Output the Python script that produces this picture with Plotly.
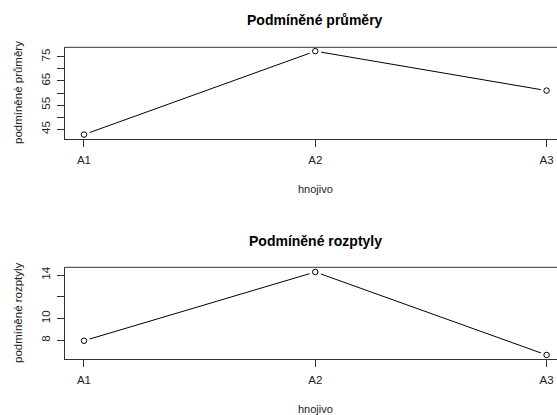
import plotly.graph_objects as go

categories = ["A1", "A2", "A3"]
x_pos = [1, 2, 3]
prumery = [42.8, 77.3, 61.0]
rozptyly = [7.96, 14.28, 6.65]

top_ticks = [45, 50, 55, 60, 65, 70, 75]
top_ticktext = ["45", "", "55", "", "65", "", "75"]
bot_ticks = [8, 10, 12, 14]
bot_ticktext = ["8", "10", "", "14"]

W, H = 557, 415
L = 65
PW = W - L

def py(p):
    return 1 - p / H

def px(p):
    return (p - L) / PW

FONT = "Liberation Sans, Arial, sans-serif"
LC = "#333333"

fig = go.Figure()

for vals, xa, ya in [(prumery, "x", "y"), (rozptyly, "x2", "y2")]:
    fig.add_trace(go.Scatter(x=x_pos, y=vals, mode="lines", xaxis=xa, yaxis=ya,
                             line=dict(color="black", width=1), hoverinfo="skip"))
    fig.add_trace(go.Scatter(x=x_pos, y=vals, mode="markers", xaxis=xa, yaxis=ya,
                             marker=dict(symbol="circle", size=12, color="white",
                                         line=dict(width=0)), hoverinfo="skip"))
    fig.add_trace(go.Scatter(x=x_pos, y=vals, mode="markers", xaxis=xa, yaxis=ya,
                             marker=dict(symbol="circle-open", size=5.5, color="black",
                                         line=dict(width=1, color="black"))))

xcommon = dict(range=[0.918, 3.045], tickvals=x_pos, ticktext=categories,
               showgrid=False, zeroline=False, showline=True, linecolor=LC, linewidth=1,
               mirror=False, ticks="outside", ticklen=7, tickcolor=LC, tickwidth=1,
               ticklabelstandoff=3,
               tickfont=dict(family=FONT, size=11.5, color="#222"), automargin=False)
ycommon = dict(showgrid=False, zeroline=False, showline=True, linecolor=LC, linewidth=1,
               ticks="outside", ticklen=7, tickcolor=LC, tickwidth=1, tickangle=-90,
               ticklabelstandoff=2,
               tickfont=dict(family=FONT, size=11.5, color="#222"), automargin=False)

fig.update_layout(
    width=W, height=H,
    margin=dict(l=L, r=0, t=0, b=0),
    paper_bgcolor="white", plot_bgcolor="white",
    showlegend=False,
    xaxis=dict(**xcommon, anchor="y", domain=[0, 1]),
    xaxis2=dict(**xcommon, anchor="y2", domain=[0, 1]),
    yaxis=dict(**ycommon, anchor="x", domain=[py(138.7), py(47.3)], range=[41.1, 78.9],
               tickvals=top_ticks, ticktext=top_ticktext),
    yaxis2=dict(**ycommon, anchor="x2", domain=[py(359), py(267.3)], range=[6.28, 14.71],
                tickvals=bot_ticks, ticktext=bot_ticktext),
)

# top border lines
for yref_p in [47.3, 267.3]:
    fig.add_shape(type="line", xref="paper", yref="paper", x0=0, x1=1.01,
                  y0=py(yref_p), y1=py(yref_p), line=dict(color=LC, width=1))

ann = []
for title, ty in [("Podmíněné průměry", 20), ("Podmíněné rozptyly", 241)]:
    ann.append(dict(text="<b>%s</b>" % title, x=px(315), y=py(ty), xref="paper", yref="paper",
                    showarrow=False, xanchor="center", yanchor="middle",
                    font=dict(family=FONT, size=14, color="black")))
for ty in [189, 409]:
    ann.append(dict(text="hnojivo", x=px(315), y=py(ty), xref="paper", yref="paper",
                    showarrow=False, xanchor="center", yanchor="middle",
                    font=dict(family=FONT, size=11, color="#222")))
for title, ty in [("podmíněné průměry", 93), ("podmíněné rozptyly", 313)]:
    ann.append(dict(text=title, x=px(18), y=py(ty), xref="paper", yref="paper",
                    showarrow=False, xanchor="center", yanchor="middle", textangle=-90,
                    font=dict(family=FONT, size=11.5, color="#222")))
fig.update_layout(annotations=ann)

fig.write_html("out.html", config={"displayModeBar": False})
with open("out.html", encoding="utf-8") as f:
    html = f.read()
html = html.replace("<head>", "<head><style>html,body{margin:0;padding:0;overflow:hidden;}</style>", 1)
with open("out.html", "w", encoding="utf-8") as f:
    f.write(html)
